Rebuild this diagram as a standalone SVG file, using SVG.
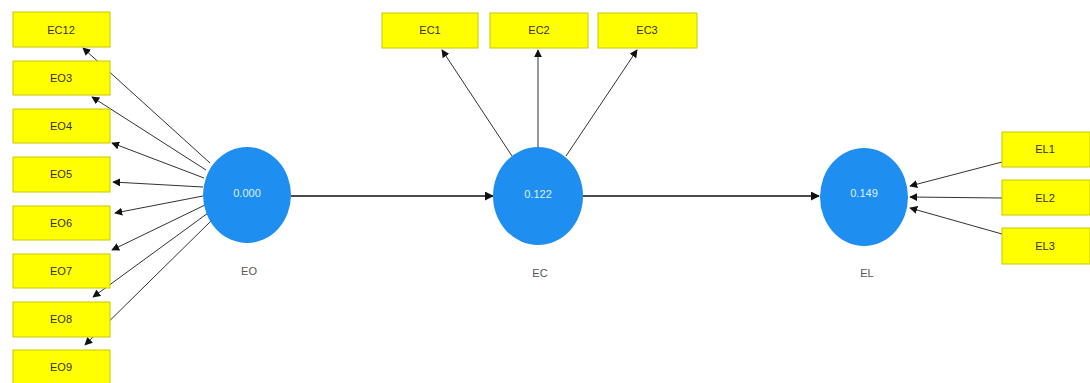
<svg xmlns="http://www.w3.org/2000/svg" width="1090" height="383" viewBox="0 0 1090 383">
<style>
.box{fill:#ffff00;stroke:#c8c800;stroke-width:1}
.bt{font-family:"Liberation Sans Narrow","Liberation Sans",Arial,sans-serif;font-size:11px;fill:#333;text-anchor:middle;dominant-baseline:central}
.lv{fill:#1e8ff0}
.lt{font-family:"Liberation Sans",Arial,sans-serif;font-size:11px;fill:#dff0ff;text-anchor:middle;dominant-baseline:central}
.nm{font-family:"Liberation Sans",Arial,sans-serif;font-size:11px;fill:#555;text-anchor:middle;dominant-baseline:central}
.c{stroke:#333;stroke-width:1;fill:none;marker-end:url(#ah)}
.p{stroke:#111;stroke-width:1.6;fill:none;marker-end:url(#ah2)}
</style>
<defs>
<marker id="ah" viewBox="0 0 10 10" refX="9" refY="5" markerWidth="8" markerHeight="8" markerUnits="userSpaceOnUse" orient="auto"><path d="M0,0 L10,5 L0,10 z" fill="#111"/></marker>
<marker id="ah2" viewBox="0 0 10 10" refX="9" refY="5" markerWidth="9" markerHeight="9" markerUnits="userSpaceOnUse" orient="auto"><path d="M0,0 L10,5 L0,10 z" fill="#111"/></marker>
</defs>
<g id="connectors">
<line class="c" x1="210" y1="163" x2="83" y2="48"/>
<line class="c" x1="206" y1="170" x2="92" y2="97"/>
<line class="c" x1="204" y1="178" x2="112" y2="143"/>
<line class="c" x1="203" y1="187" x2="113" y2="182"/>
<line class="c" x1="203" y1="196" x2="115" y2="213"/>
<line class="c" x1="205" y1="205" x2="112" y2="250"/>
<line class="c" x1="208" y1="213" x2="93" y2="297"/>
<line class="c" x1="212" y1="220" x2="85" y2="345"/>
<line class="c" x1="512" y1="156" x2="442" y2="50"/>
<line class="c" x1="538" y1="147" x2="538" y2="50"/>
<line class="c" x1="566" y1="156" x2="637" y2="50"/>
<line class="c" x1="1002" y1="162" x2="910" y2="186"/>
<line class="c" x1="1002" y1="198" x2="910" y2="197"/>
<line class="c" x1="1002" y1="234" x2="910" y2="208"/>
<line class="p" x1="291" y1="196" x2="493" y2="196"/>
<line class="p" x1="583" y1="196" x2="819" y2="196"/>
</g>
<g id="EC12"><rect class="box" x="13" y="12" width="97" height="35"/><text class="bt" x="61" y="30">EC12</text></g>
<g id="EO3"><rect class="box" x="13" y="61" width="97" height="34"/><text class="bt" x="61" y="78">EO3</text></g>
<g id="EO4"><rect class="box" x="13" y="109" width="97" height="34"/><text class="bt" x="61" y="126">EO4</text></g>
<g id="EO5"><rect class="box" x="13" y="157" width="97" height="35"/><text class="bt" x="61" y="174">EO5</text></g>
<g id="EO6"><rect class="box" x="13" y="206" width="97" height="34"/><text class="bt" x="61" y="223">EO6</text></g>
<g id="EO7"><rect class="box" x="13" y="254" width="97" height="34"/><text class="bt" x="61" y="271">EO7</text></g>
<g id="EO8"><rect class="box" x="13" y="302" width="97" height="35"/><text class="bt" x="61" y="319">EO8</text></g>
<g id="EO9"><rect class="box" x="13" y="350" width="97" height="34"/><text class="bt" x="61" y="367">EO9</text></g>
<g id="EC1"><rect class="box" x="382" y="13" width="96" height="35"/><text class="bt" x="430" y="30">EC1</text></g>
<g id="EC2"><rect class="box" x="490" y="13" width="98" height="35"/><text class="bt" x="539" y="30">EC2</text></g>
<g id="EC3"><rect class="box" x="598" y="13" width="99" height="35"/><text class="bt" x="647" y="30">EC3</text></g>
<g id="EL1"><rect class="box" x="1002" y="132" width="88" height="35"/><text class="bt" x="1045" y="149">EL1</text></g>
<g id="EL2"><rect class="box" x="1002" y="180" width="88" height="35"/><text class="bt" x="1045" y="198">EL2</text></g>
<g id="EL3"><rect class="box" x="1002" y="228" width="88" height="36"/><text class="bt" x="1045" y="246">EL3</text></g>
<g id="EO"><ellipse class="lv" cx="247" cy="195" rx="44" ry="48"/><text class="lt" x="247" y="193">0.000</text><text class="nm" x="249" y="271">EO</text></g>
<g id="EC"><ellipse class="lv" cx="538" cy="196" rx="45" ry="49"/><text class="lt" x="538" y="194">0.122</text><text class="nm" x="540" y="273">EC</text></g>
<g id="EL"><ellipse class="lv" cx="864" cy="197" rx="44" ry="49"/><text class="lt" x="864" y="193">0.149</text><text class="nm" x="867" y="273">EL</text></g>
</svg>
